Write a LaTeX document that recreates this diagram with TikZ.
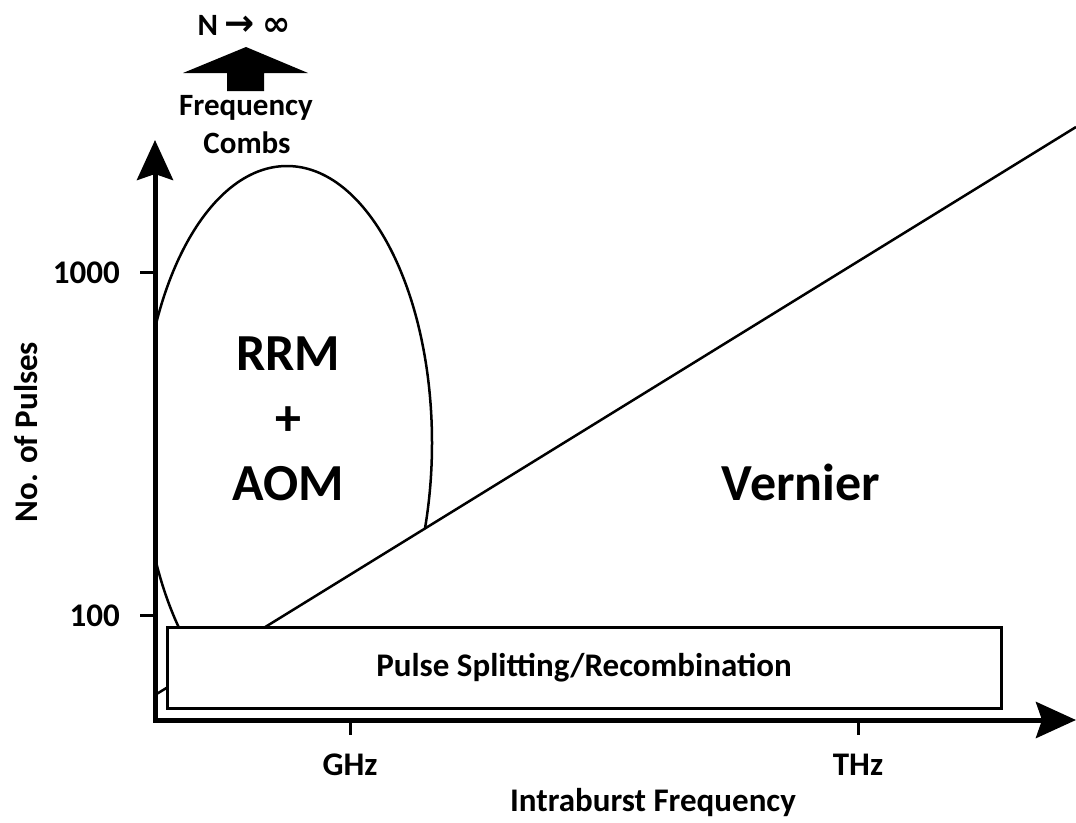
\documentclass[tikz,border=0pt]{standalone}
\usepackage{fontspec}
\setmainfont{Carlito}
\newfontfamily\symfont{DejaVu Sans}
\usetikzlibrary{arrows.meta}
\usetikzlibrary{positioning}

\begin{document}
\begin{tikzpicture}[
    x=1pt, y=-1pt,
    axisline/.style={
        line width=5pt,
        line join=miter,
        {Stealth[length=40pt,width=36pt,inset=6pt]}-{Stealth[length=40pt,width=36pt,inset=6pt]}},
    tickline/.style={line width=3pt},
    regionline/.style={line width=2.5pt},
    splitbox/.style={
        draw,
        fill=white,
        line width=3pt,
        inner sep=0pt,
        minimum width=834pt,
        minimum height=81pt,
        font=\fontsize{33}{40}\selectfont\bfseries},
    axislabel/.style={
        inner sep=0pt,
        font=\fontsize{33}{40}\selectfont\bfseries},
    biglabel/.style={
        inner sep=0pt,
        font=\fontsize{52}{62}\selectfont\bfseries},
    comblabel/.style={
        inner sep=0pt,
        font=\fontsize{31}{37}\selectfont\bfseries}
]
\useasboundingbox (0,0) rectangle (1076,822);

% axes
\coordinate (origin) at (155,720);
\coordinate (ytip) at (155,140);
\coordinate (xtip) at (1076,720);
\draw[axisline] (ytip) -- (origin) -- (xtip);

% vernier boundary
\coordinate (vlow) at (155,695);
\coordinate (vhigh) at (1076,127);

% RRM + AOM region, hidden below the vernier line
\begin{scope}
    \clip (155,0) -- (vlow) -- (vhigh) -- (1076,0) -- cycle;
    \draw[regionline] (287,443) ellipse [x radius=145pt, y radius=277pt];
\end{scope}
\draw[regionline] (vlow) -- (vhigh);

\node[splitbox] (split) at (584,667.5) {Pulse Splitting/Recombination};

% ticks
\foreach \ty/\tl in {272/1000, 615/100}{ % number of pulses
    \coordinate (yt\tl) at (155,\ty);
    \draw[tickline] (yt\tl) -- ++(-15,0);
    \node[axislabel, anchor=base east] (ylab\tl) at (120,\ty+11) {\tl};
}
\foreach \tx/\tl in {350/GHz, 858/THz}{ % frequencies
    \coordinate (xt\tl) at (\tx,720);
    \draw[tickline] (xt\tl) -- ++(0,15);
    \node[axislabel, anchor=base] (xlab\tl) at (\tx,775) {\tl};
}

\node[axislabel, anchor=base] (xname) at (653,811) {Intraburst Frequency};
\node[axislabel, anchor=base, rotate=90] (yname) at (37,432) {No. of Pulses};

\node[biglabel, anchor=base] (rrm) at (288,370) {RRM};
\node[biglabel, anchor=base] (plus) at (288,435) {+};
\node[biglabel, anchor=base] (aom) at (288,500) {AOM};
\node[biglabel, anchor=base] (vernier) at (801,500) {Vernier};

% frequency combs limit
\fill (183,73) -- (246,47) -- (308,73) -- (264,73) -- (264,91) -- (227,91) -- (227,73) -- cycle;
\node[comblabel, anchor=base] (ninf) at (244,35) {N {\symfont\fontsize{36}{40}\selectfont→} {\symfont\bfseries\fontsize{34}{40}\selectfont∞}};
\node[comblabel, anchor=base] (freq) at (246,115) {Frequency};
\node[comblabel, anchor=base] (combs) at (247,153) {Combs};

\end{tikzpicture}
\end{document}
